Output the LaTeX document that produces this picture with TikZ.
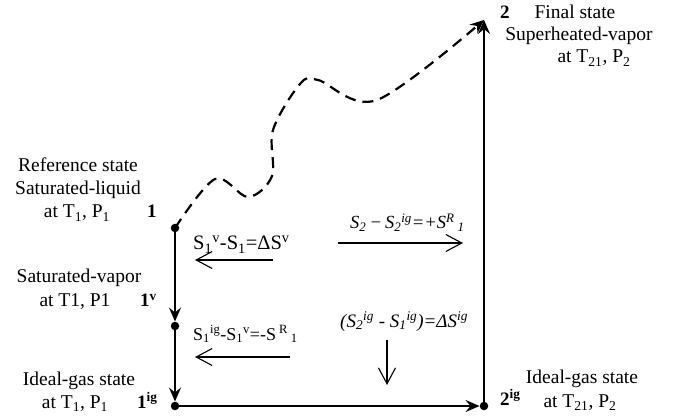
\documentclass[tikz,border=0pt]{standalone}
\usepackage{fontspec}
\setmainfont{Liberation Serif}
\usetikzlibrary{arrows.meta}
\begin{document}
\begin{tikzpicture}[x=1pt,y=-1pt,
  lbl/.style={font=\fontsize{19.5}{23}\selectfont, inner sep=0pt, anchor=base},
  num/.style={font=\fontsize{19}{23}\selectfont\bfseries, inner sep=0pt, anchor=base west},
  eq/.style={font=\fontsize{18.5}{20}\selectfont, inner sep=0pt, anchor=base west},
  dot/.style={circle, fill=black, inner sep=0pt, minimum size=8.5pt},
  mainarrow/.style={line width=2pt, -{Stealth[length=14pt,width=12pt,inset=5pt]}},
  thinarrow/.style={line width=1.1pt, -{Straight Barb[length=16pt,width=17pt]}},
  dashpath/.style={line width=2.2pt, dash pattern=on 11pt off 7pt, -{Stealth[length=14pt,width=12pt,inset=5pt]}}]
\useasboundingbox (0,0) rectangle (673,417);

% state points
\node[dot] (p1) at (175,228) {};
\node[dot] (p1v) at (175,326) {};
\node[dot] (p1ig) at (175,406) {};
\node[dot] (p2ig) at (484,406) {};
\coordinate (p2) at (484,20);

% main path
\draw[mainarrow] (p1) -- (p1v);
\draw[mainarrow] (p1v) -- (p1ig);
\draw[mainarrow] (p1ig) -- (p2ig);
\draw[mainarrow] (p2ig) -- (p2);
\draw[dashpath] plot[smooth, tension=0.55] coordinates {(p1) (215,179) (248,197) (272,176) (273,130) (300,84) (318,80) (377,100) (p2)};

% left labels
\node[lbl] (ref1) at (78,172) {Reference state};
\node[lbl] (ref2) at (78,195) {Saturated-liquid};
\node[lbl] (ref3) at (77,218) {at T\textsubscript{1}, P\textsubscript{1}};
\node[num] (n1) at (147,218) {1};
\node[lbl] (sv1) at (79,283) {Saturated-vapor};
\node[lbl] (sv2) at (75,307) {at T1, P1};
\node[num] (n1v) at (140,307) {1\textsuperscript{v}};
\node[lbl] (ig1) at (79,385) {Ideal-gas state};
\node[lbl] (ig2) at (75,408) {at T\textsubscript{1}, P\textsubscript{1}};
\node[num] (n1ig) at (137,408) {1\textsuperscript{ig}};

% right labels
\node[num] (n2ig) at (500,405) {2\textsuperscript{ig}};
\node[lbl] (ig3) at (582,383) {Ideal-gas state};
\node[lbl] (ig4) at (580,407) {at T\textsubscript{21}, P\textsubscript{2}};
\node[num] (n2) at (500,19) {2};
\node[lbl] (fs1) at (575,19) {Final state};
\node[lbl] (fs2) at (579,41) {Superheated-vapor};
\node[lbl] (fs3) at (594,63) {at T\textsubscript{21}, P\textsubscript{2}};

% equations and their arrows
\node[eq, font=\fontsize{20.5}{22}\selectfont] (e1) at (193,250) {S\textsubscript{1}\textsuperscript{v}-S\textsubscript{1}=ΔS\textsuperscript{v}};
\coordinate (a1s) at (273,260); \coordinate (a1e) at (195,260);
\draw[thinarrow] (a1s) -- (a1e);

\node[eq, font=\fontsize{18}{20}\selectfont] (e2) at (193,340) {S\textsubscript{1}\textsuperscript{ig}-S\textsubscript{1}\textsuperscript{v}=-S\,\textsuperscript{R}\,\textsubscript{1}};
\coordinate (a2s) at (290,357); \coordinate (a2e) at (195,357);
\draw[thinarrow] (a2s) -- (a2e);

\node[eq] (e3) at (350,229) {\itshape S\textsubscript{2}\,−\,S\textsubscript{2}\textsuperscript{ig}=+S\textsuperscript{R}\,\textsubscript{1}};
\coordinate (a3s) at (338,243); \coordinate (a3e) at (463,243);
\draw[thinarrow] (a3s) -- (a3e);

\node[eq, font=\fontsize{19}{20}\selectfont] (e4) at (340,327) {\itshape (S\textsubscript{2}\textsuperscript{ig} - S\textsubscript{1}\textsuperscript{ig})=ΔS\textsuperscript{ig}};
\coordinate (a4s) at (387,340); \coordinate (a4e) at (387,385);
\draw[thinarrow] (a4s) -- (a4e);
\end{tikzpicture}
\end{document}
